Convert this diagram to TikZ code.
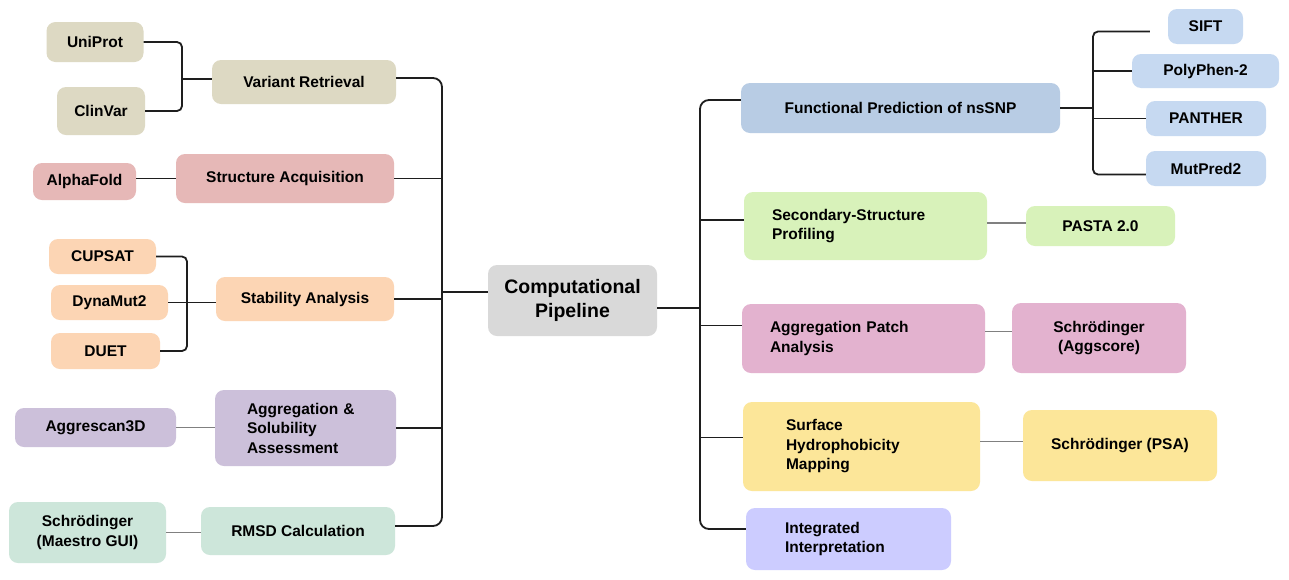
\documentclass[tikz,border=0pt]{standalone}
\usepackage{fontspec}
\setmainfont{Liberation Sans}
\definecolor{cBeige}{HTML}{DDD9C3}
\definecolor{cRose}{HTML}{E6B8B7}
\definecolor{cPeach}{HTML}{FCD5B4}
\definecolor{cLav}{HTML}{CCC0DA}
\definecolor{cMint}{HTML}{CDE6DA}
\definecolor{cGray}{HTML}{D9D9D9}
\definecolor{cBlueA}{HTML}{B8CCE4}
\definecolor{cBlueB}{HTML}{C6D9F1}
\definecolor{cLime}{HTML}{D8F2BA}
\definecolor{cMag}{HTML}{E3B2CF}
\definecolor{cYel}{HTML}{FCE699}
\definecolor{cPeri}{HTML}{CCCCFF}
\definecolor{cLine}{HTML}{1E1E1E}
\definecolor{cThin}{HTML}{808080}
\tikzset{
  box/.style={rounded corners=9pt, inner sep=0pt, align=center,
    font=\fontsize{15.5}{19.5}\selectfont\bfseries},
  lft/.style={inner xsep=#1pt, align=left},
  conn/.style={draw=cLine, line width=1.8pt},
  thin/.style={draw=cThin, line width=1.5pt},
}
\begin{document}
\begin{tikzpicture}[x=1pt,y=-1pt]
\useasboundingbox[fill=white] (0,0) rectangle (1289,579);
% left side
\node[box, fill=cBeige, minimum width=97pt, minimum height=40pt] (uni) at (95,42) {UniProt};
\node[box, fill=cBeige, minimum width=88pt, minimum height=48pt] (clin) at (101,111) {ClinVar};
\node[box, fill=cBeige, minimum width=184pt, minimum height=44pt] (vr) at (304,82) {Variant Retrieval};
\node[box, fill=cRose, minimum width=103pt, minimum height=37pt] (af) at (84.5,181.5) {AlphaFold};
\node[box, fill=cRose, minimum width=218pt, minimum height=49pt] (sa) at (285,178.5) {Structure Acquisition};
\node[box, fill=cPeach, minimum width=107pt, minimum height=35pt] (cup) at (102.5,256.5) {CUPSAT};
\node[box, fill=cPeach, minimum width=117pt, minimum height=35pt] (dyn) at (109.5,302.5) {DynaMut2};
\node[box, fill=cPeach, minimum width=109pt, minimum height=36pt] (duet) at (105.5,351) {DUET};
\node[box, fill=cPeach, minimum width=178pt, minimum height=44pt] (stab) at (305,299) {Stability Analysis};
\node[box, fill=cLav, minimum width=161pt, minimum height=39pt] (a3d) at (95.5,427.5) {Aggrescan3D};
\node[box, fill=cLav, lft=32, text width=117pt, minimum width=181pt, minimum height=76pt] (ags) at (305.5,428) {Aggregation \&\\Solubility\\Assessment};
\node[box, fill=cMint, minimum width=157pt, minimum height=61pt] (mae) at (87.5,532.5) {Schrödinger\\(Maestro GUI)};
\node[box, fill=cMint, minimum width=194pt, minimum height=48pt] (rmsd) at (298,531) {RMSD Calculation};
% centre
\node[box, fill=cGray, minimum width=169pt, minimum height=71pt, font=\fontsize{19.5}{24}\selectfont\bfseries] (cp) at (572.5,300.5) {Computational\\Pipeline};
% right side
\node[box, fill=cBlueA, minimum width=319pt, minimum height=50pt] (fp) at (900.5,108) {Functional Prediction of nsSNP};
\node[box, fill=cBlueB, minimum width=75pt, minimum height=35pt] (sift) at (1205.5,26.5) {SIFT};
\node[box, fill=cBlueB, minimum width=147pt, minimum height=34pt] (pp) at (1205.5,71) {PolyPhen-2};
\node[box, fill=cBlueB, minimum width=120pt, minimum height=35pt] (pa) at (1206,118.5) {PANTHER};
\node[box, fill=cBlueB, minimum width=120pt, minimum height=35pt] (mp) at (1206,168.5) {MutPred2};
\node[box, fill=cLime, lft=28, text width=187pt, minimum width=243pt, minimum height=68pt] (ss) at (865.5,226) {Secondary-Structure\\Profiling};
\node[box, fill=cLime, minimum width=149pt, minimum height=40pt] (pasta) at (1100.5,226) {PASTA 2.0};
\node[box, fill=cMag, lft=28, text width=187pt, minimum width=243pt, minimum height=69pt] (apa) at (863.5,338.5) {Aggregation Patch\\Analysis};
\node[box, fill=cMag, minimum width=174pt, minimum height=70pt] (agsc) at (1099,338) {Schrödinger\\(Aggscore)};
\node[box, fill=cYel, lft=43, text width=151pt, minimum width=237pt, minimum height=89pt] (shm) at (861.5,446.5) {Surface\\Hydrophobicity\\Mapping};
\node[box, fill=cYel, minimum width=194pt, minimum height=71pt] (psa) at (1120,445.5) {Schrödinger (PSA)};
\node[box, fill=cPeri, lft=39, text width=127pt, minimum width=205pt, minimum height=62pt] (ii) at (848.5,539) {Integrated\\Interpretation};
% junction coordinates
\coordinate (vrj) at (182,79);
\coordinate (sj) at (187,303);
\coordinate (lt) at (442,292);
\coordinate (rt) at (700,308);
\coordinate (fj) at (1093,108);
% left connectors
\draw[conn, rounded corners=5pt] (uni.east) -| (vrj) |- (clin.east);
\draw[conn] (vrj) -- (vrj -| vr.west);
\draw[conn] (af.east |- sa.west) -- (sa.west);
\draw[conn, rounded corners=5pt] (cup.east) -| (sj) |- (duet.east);
\draw[conn] (dyn.east) -- (dyn.east -| stab.west);
\draw[thin] (a3d.east) -- (a3d.east -| ags.west);
\draw[thin] (mae.east) -- (mae.east -| rmsd.west);
\draw[conn, rounded corners=9pt] ([yshift=4pt]vr.east) -| (lt) |- ([yshift=5pt]rmsd.east);
\draw[conn] (sa.east) -- (sa.east -| lt);
\draw[conn] (stab.east) -- (stab.east -| lt);
\draw[conn] (ags.east) -- (ags.east -| lt);
\draw[conn] (lt) -- (lt -| cp.west);
% right connectors
\draw[conn] (rt -| cp.east) -- (rt);
\draw[conn, rounded corners=9pt] ([yshift=8pt]fp.west) -| (rt) |- ([yshift=10pt]ii.west);
\draw[conn] ([yshift=6pt]ss.west) -- ([yshift=6pt]ss.west -| rt);
\draw[conn] ([yshift=13pt]apa.west) -- ([yshift=13pt]apa.west -| rt);
\draw[conn] ([yshift=9pt]shm.west) -- ([yshift=9pt]shm.west -| rt);
\draw[conn] (fp.east) -- (fj);
\draw[conn, rounded corners=5pt] ([xshift=-18pt, yshift=-5pt]sift.west) -| (fj) |- ([yshift=-6pt]mp.west);
\draw[conn] (pp.west) -- (pp.west -| fj);
\draw[conn] (pa.west) -- (pa.west -| fj);
\draw[thin] ([yshift=3pt]ss.east) -- ([yshift=3pt]ss.east -| pasta.west);
\draw[thin] ([yshift=7pt]apa.east) -- ([yshift=7pt]apa.east -| agsc.west);
\draw[thin] ([yshift=5pt]shm.east) -- ([yshift=5pt]shm.east -| psa.west);
\end{tikzpicture}
\end{document}
